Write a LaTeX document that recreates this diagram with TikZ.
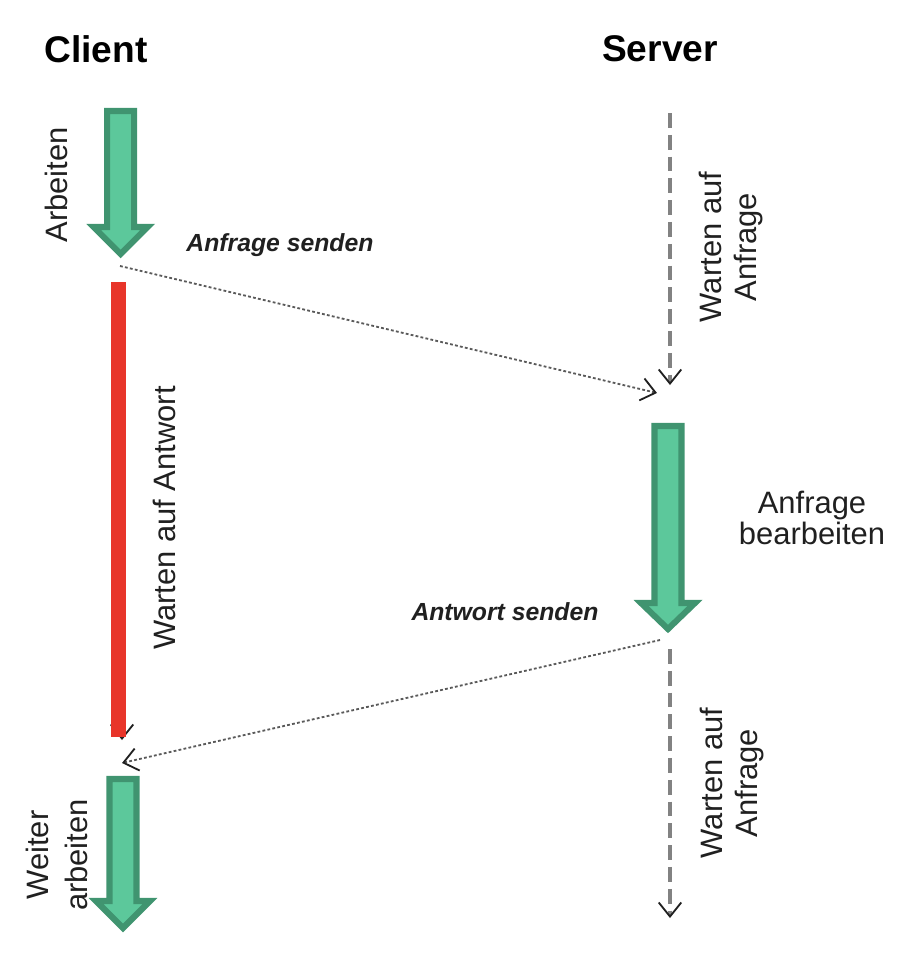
\documentclass[tikz,border=0pt]{standalone}
\usepackage{fontspec}
\setmainfont{Liberation Sans}
\usepackage{tikz}
\usetikzlibrary{arrows.meta, positioning, calc}
\definecolor{workgreen}{HTML}{5CC89B}
\definecolor{workborder}{HTML}{409470}
\definecolor{waitred}{HTML}{E8352A}
\definecolor{idlegray}{HTML}{828282}
\definecolor{msggray}{HTML}{5A5A5A}
\definecolor{inkgray}{HTML}{202020}

\begin{document}
\begin{tikzpicture}[x=0.025cm, y=-0.025cm]
  \useasboundingbox (0,0) rectangle (906,962);

  % Styles for lanes, labels and lines
  \tikzset{
    lane title/.style={font=\fontsize{26.4}{30}\selectfont\bfseries, inner sep=0pt},
    state label/.style={inkgray, font=\fontsize{22}{24}\selectfont, align=center, inner sep=0pt},
    msg label/.style={inkgray, font=\fontsize{17.6}{20}\selectfont\bfseries\itshape, inner sep=0pt},
    work arrow/.style={fill=workgreen, draw=workborder, line width=4.3pt, line join=miter},
    chevron/.style={-{Straight Barb[length=10pt, width=16pt, line width'=1.3pt, color=inkgray]}},
    idle line/.style={idlegray, line width=3.2pt, dash pattern=on 10.5pt off 5pt},
    msg line/.style={msggray, line width=1.3pt, dash pattern=on 2pt off 1.6pt}
  }

  \node[lane title] (client) at (96,49) {Client};
  \node[lane title] (server) at (660,49) {Server};

  % Green work blocks: x / top / head base / tip
  \foreach \x/\ytop/\ybase/\ytip in {120.7/111/227/254, 668/426/603/629, 123/779/901/928} {
    \draw[work arrow] (\x-13.5,\ytop) -- (\x+13.5,\ytop) -- (\x+13.5,\ybase) -- (\x+27,\ybase)
      -- (\x,\ytip) -- (\x-27,\ybase) -- (\x-13.5,\ybase) -- cycle;
  }

  % Client waiting for the answer
  \coordinate (waittop) at (122,715);
  \coordinate (waitend) at (122,740);
  \draw[inkgray, chevron] (waittop) -- (waitend);
  \fill[waitred] (111,282) rectangle (126,737);

  % Server idle phases
  \coordinate (idleA) at (670,113);
  \coordinate (idleB) at (670,385);
  \coordinate (idleC) at (670,649);
  \coordinate (idleD) at (670,918);
  \draw[idle line, chevron] (idleA) -- (idleB);
  \draw[idle line, chevron] (idleC) -- (idleD);

  % Messages
  \coordinate (reqstart) at (120,266);
  \coordinate (reqend) at (657,393);
  \coordinate (respstart) at (660,640);
  \coordinate (respend) at (122,763);
  \draw[msg line, chevron] (reqstart) -- (reqend);
  \draw[msg line, chevron] (respstart) -- (respend);

  \node[msg label] (reqlabel) at (280,245) {Anfrage senden};
  \node[msg label] (resplabel) at (505,612) {Antwort senden};

  % Phase labels
  \node[state label, rotate=90] (arbeiten) at (56,185) {Arbeiten};
  \node[state label, rotate=90] (wartenantwort) at (164,518) {Warten auf Antwort};
  \node[state label, rotate=90, font=\fontsize{22}{24.5}\selectfont] (wartenA) at (731,247) {Warten auf\\Anfrage};
  \node[state label, font=\fontsize{22}{21.5}\selectfont] (bearbeiten) at (812,518) {Anfrage\\bearbeiten};
  \node[state label, rotate=90, font=\fontsize{22}{24.5}\selectfont] (wartenB) at (732,783) {Warten auf\\Anfrage};
  \node[state label, rotate=90, font=\fontsize{22}{28}\selectfont] (weiter) at (57,855) {Weiter\\arbeiten};
\end{tikzpicture}
\end{document}
